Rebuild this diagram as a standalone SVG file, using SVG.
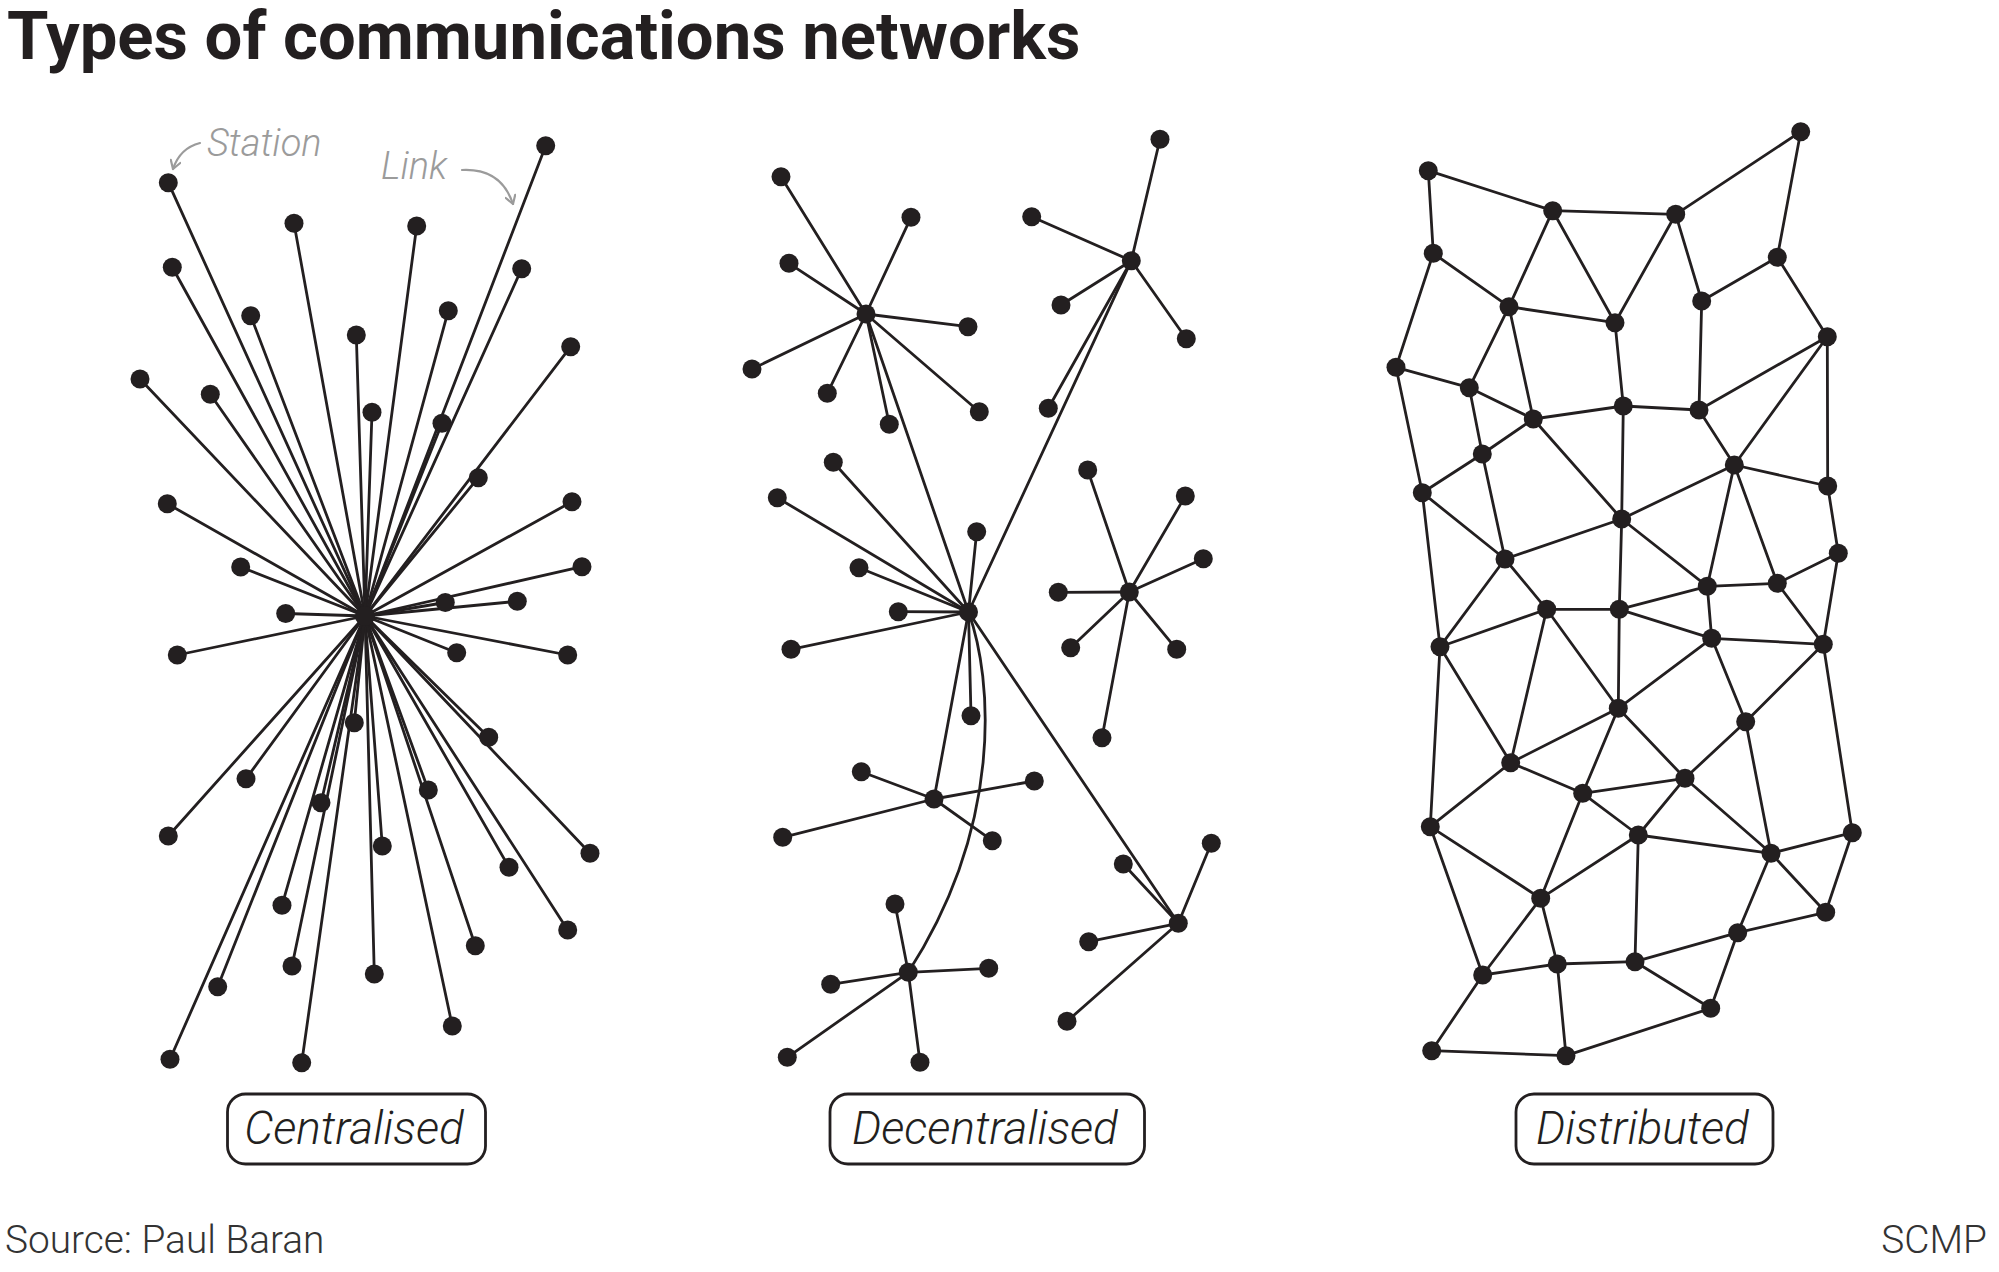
<svg xmlns="http://www.w3.org/2000/svg" width="1999" height="1272" viewBox="0 0 1999 1272">
<style>
.bg{fill:#ffffff}
.dot{fill:#231f20}
.ln{stroke:#231f20;stroke-width:2.8;fill:none;stroke-linecap:round}
.ann{stroke:#9b9b9b;stroke-width:2.2;fill:none;stroke-linecap:round}
.title{font-family:Roboto,"Liberation Sans",sans-serif;font-weight:700;font-size:67px;fill:#231f20}
.note{font-family:Roboto,"Liberation Sans",sans-serif;font-weight:300;font-style:italic;font-size:38px;fill:#9b9b9b}
.lab{font-family:Roboto,"Liberation Sans",sans-serif;font-weight:300;font-style:italic;font-size:46px;fill:#231f20}
.box{fill:#ffffff;stroke:#231f20;stroke-width:2.8}
.foot{font-family:Roboto,"Liberation Sans",sans-serif;font-weight:300;font-size:38.8px;fill:#333333}
</style>
<defs>
<marker id="chev" viewBox="0 0 12 12" refX="10" refY="6" markerWidth="12" markerHeight="12" markerUnits="userSpaceOnUse" orient="auto">
<path d="M2 1 L10 6 L2 11" fill="none" stroke="#9b9b9b" stroke-width="2.2" stroke-linecap="round" stroke-linejoin="round"/>
</marker>
</defs>
<rect class="bg" x="0" y="0" width="1999" height="1272"/>
<text class="title" x="7" y="59">Types of communications networks</text>

<g id="annotations">
<text class="note" x="207" y="156">Station</text>
<path class="ann" d="M200 143 Q180 148 173 169" marker-end="url(#chev)"/>
<text class="note" x="381" y="179">Link</text>
<path class="ann" d="M462 170 Q501 168 513 204" marker-end="url(#chev)"/>
</g>

<g id="connectors">
<g id="cen-links">
<line class="ln" x1="365" y1="616" x2="168.3" y2="182.7"/>
<line class="ln" x1="365" y1="616" x2="294" y2="223.3"/>
<line class="ln" x1="365" y1="616" x2="416.7" y2="226"/>
<line class="ln" x1="365" y1="616" x2="545.7" y2="145.7"/>
<line class="ln" x1="365" y1="616" x2="172.3" y2="267.3"/>
<line class="ln" x1="365" y1="616" x2="521.7" y2="268.7"/>
<line class="ln" x1="365" y1="616" x2="250.7" y2="315.7"/>
<line class="ln" x1="365" y1="616" x2="448.3" y2="310.7"/>
<line class="ln" x1="365" y1="616" x2="356.3" y2="335"/>
<line class="ln" x1="365" y1="616" x2="570.7" y2="346.7"/>
<line class="ln" x1="365" y1="616" x2="140" y2="379"/>
<line class="ln" x1="365" y1="616" x2="210.3" y2="394.3"/>
<line class="ln" x1="365" y1="616" x2="372" y2="412.3"/>
<line class="ln" x1="365" y1="616" x2="442" y2="423.3"/>
<line class="ln" x1="365" y1="616" x2="478.3" y2="477.7"/>
<line class="ln" x1="365" y1="616" x2="167.3" y2="503.7"/>
<line class="ln" x1="365" y1="616" x2="572" y2="501.7"/>
<line class="ln" x1="365" y1="616" x2="240.7" y2="567"/>
<line class="ln" x1="365" y1="616" x2="582" y2="566.7"/>
<line class="ln" x1="365" y1="616" x2="445.3" y2="602.5"/>
<line class="ln" x1="365" y1="616" x2="517.3" y2="601.3"/>
<line class="ln" x1="365" y1="616" x2="285.7" y2="613.5"/>
<line class="ln" x1="365" y1="616" x2="177.3" y2="655"/>
<line class="ln" x1="365" y1="616" x2="456.7" y2="652.7"/>
<line class="ln" x1="365" y1="616" x2="567.7" y2="655"/>
<line class="ln" x1="365" y1="616" x2="354.3" y2="722.7"/>
<line class="ln" x1="365" y1="616" x2="488.7" y2="737.3"/>
<line class="ln" x1="365" y1="616" x2="246" y2="778.7"/>
<line class="ln" x1="365" y1="616" x2="321" y2="802.7"/>
<line class="ln" x1="365" y1="616" x2="428.3" y2="790"/>
<line class="ln" x1="365" y1="616" x2="168.3" y2="836"/>
<line class="ln" x1="365" y1="616" x2="382.3" y2="846"/>
<line class="ln" x1="365" y1="616" x2="590" y2="853.3"/>
<line class="ln" x1="365" y1="616" x2="509" y2="867.3"/>
<line class="ln" x1="365" y1="616" x2="282" y2="905.3"/>
<line class="ln" x1="365" y1="616" x2="567.7" y2="930"/>
<line class="ln" x1="365" y1="616" x2="475.3" y2="945.7"/>
<line class="ln" x1="365" y1="616" x2="292" y2="966"/>
<line class="ln" x1="365" y1="616" x2="374.3" y2="974"/>
<line class="ln" x1="365" y1="616" x2="217.7" y2="986.7"/>
<line class="ln" x1="365" y1="616" x2="452.3" y2="1026"/>
<line class="ln" x1="365" y1="616" x2="170" y2="1059.3"/>
<line class="ln" x1="365" y1="616" x2="301.7" y2="1062.7"/>
</g>
<g id="dec-links">
<line class="ln" x1="866" y1="314" x2="781" y2="176.7"/>
<line class="ln" x1="866" y1="314" x2="911" y2="217.3"/>
<line class="ln" x1="866" y1="314" x2="789" y2="263.3"/>
<line class="ln" x1="866" y1="314" x2="968" y2="326.7"/>
<line class="ln" x1="866" y1="314" x2="752" y2="369"/>
<line class="ln" x1="866" y1="314" x2="827.3" y2="393.3"/>
<line class="ln" x1="866" y1="314" x2="889.3" y2="424.3"/>
<line class="ln" x1="866" y1="314" x2="979.3" y2="411.7"/>
<line class="ln" x1="1131.3" y1="260.7" x2="1160" y2="139.3"/>
<line class="ln" x1="1131.3" y1="260.7" x2="1031.7" y2="216.7"/>
<line class="ln" x1="1131.3" y1="260.7" x2="1061" y2="305"/>
<line class="ln" x1="1131.3" y1="260.7" x2="1186.3" y2="338.7"/>
<line class="ln" x1="1131.3" y1="260.7" x2="1048.3" y2="408.3"/>
<line class="ln" x1="968.5" y1="612" x2="777.3" y2="497.7"/>
<line class="ln" x1="968.5" y1="612" x2="833.3" y2="462.3"/>
<line class="ln" x1="968.5" y1="612" x2="859" y2="567.7"/>
<line class="ln" x1="968.5" y1="612" x2="976.7" y2="531.7"/>
<line class="ln" x1="968.5" y1="612" x2="898.3" y2="611.7"/>
<line class="ln" x1="968.5" y1="612" x2="791" y2="649.3"/>
<line class="ln" x1="968.5" y1="612" x2="971" y2="715.7"/>
<line class="ln" x1="1129.3" y1="592" x2="1087.7" y2="470"/>
<line class="ln" x1="1129.3" y1="592" x2="1185.3" y2="496"/>
<line class="ln" x1="1129.3" y1="592" x2="1203.3" y2="558.7"/>
<line class="ln" x1="1129.3" y1="592" x2="1058.3" y2="592.3"/>
<line class="ln" x1="1129.3" y1="592" x2="1070.7" y2="647.7"/>
<line class="ln" x1="1129.3" y1="592" x2="1176.7" y2="649.3"/>
<line class="ln" x1="1129.3" y1="592" x2="1102" y2="737.7"/>
<line class="ln" x1="934" y1="799" x2="861.3" y2="771.7"/>
<line class="ln" x1="934" y1="799" x2="1034.3" y2="781"/>
<line class="ln" x1="934" y1="799" x2="782.7" y2="837.3"/>
<line class="ln" x1="934" y1="799" x2="992.3" y2="840.7"/>
<line class="ln" x1="908.3" y1="972.3" x2="895" y2="904"/>
<line class="ln" x1="908.3" y1="972.3" x2="988.7" y2="968.3"/>
<line class="ln" x1="908.3" y1="972.3" x2="830.7" y2="984.3"/>
<line class="ln" x1="908.3" y1="972.3" x2="787.3" y2="1057.3"/>
<line class="ln" x1="908.3" y1="972.3" x2="920" y2="1062.3"/>
<line class="ln" x1="1178.3" y1="923.3" x2="1211.3" y2="843.3"/>
<line class="ln" x1="1178.3" y1="923.3" x2="1123.3" y2="864"/>
<line class="ln" x1="1178.3" y1="923.3" x2="1088.7" y2="941.7"/>
<line class="ln" x1="1178.3" y1="923.3" x2="1067" y2="1021.3"/>
<line class="ln" x1="968.5" y1="612" x2="866" y2="314"/>
<line class="ln" x1="968.5" y1="612" x2="1131.3" y2="260.7"/>
<line class="ln" x1="968.5" y1="612" x2="934" y2="799"/>
<line class="ln" x1="968.5" y1="612" x2="1178.3" y2="923.3"/>
<path class="ln" d="M968.5 612 C993 680 1003 825 908.3 972.3"/>
</g>
<g id="dis-links">
<line class="ln" x1="1428.3" y1="170.7" x2="1552.7" y2="210.7"/>
<line class="ln" x1="1428.3" y1="170.7" x2="1433.3" y2="253.3"/>
<line class="ln" x1="1552.7" y1="210.7" x2="1675.7" y2="214.3"/>
<line class="ln" x1="1675.7" y1="214.3" x2="1800.7" y2="131.7"/>
<line class="ln" x1="1800.7" y1="131.7" x2="1777.3" y2="257.3"/>
<line class="ln" x1="1552.7" y1="210.7" x2="1509" y2="306.7"/>
<line class="ln" x1="1552.7" y1="210.7" x2="1615" y2="322.7"/>
<line class="ln" x1="1675.7" y1="214.3" x2="1615" y2="322.7"/>
<line class="ln" x1="1675.7" y1="214.3" x2="1701.7" y2="301"/>
<line class="ln" x1="1777.3" y1="257.3" x2="1701.7" y2="301"/>
<line class="ln" x1="1777.3" y1="257.3" x2="1827.3" y2="336.7"/>
<line class="ln" x1="1433.3" y1="253.3" x2="1509" y2="306.7"/>
<line class="ln" x1="1433.3" y1="253.3" x2="1396" y2="367.3"/>
<line class="ln" x1="1509" y1="306.7" x2="1615" y2="322.7"/>
<line class="ln" x1="1509" y1="306.7" x2="1469.3" y2="387.7"/>
<line class="ln" x1="1509" y1="306.7" x2="1533.3" y2="419"/>
<line class="ln" x1="1615" y1="322.7" x2="1623.3" y2="406"/>
<line class="ln" x1="1701.7" y1="301" x2="1699" y2="410"/>
<line class="ln" x1="1827.3" y1="336.7" x2="1699" y2="410"/>
<line class="ln" x1="1827.3" y1="336.7" x2="1734.3" y2="465"/>
<line class="ln" x1="1827.3" y1="336.7" x2="1827.7" y2="486"/>
<line class="ln" x1="1396" y1="367.3" x2="1469.3" y2="387.7"/>
<line class="ln" x1="1396" y1="367.3" x2="1422.3" y2="492.7"/>
<line class="ln" x1="1469.3" y1="387.7" x2="1533.3" y2="419"/>
<line class="ln" x1="1469.3" y1="387.7" x2="1482.3" y2="454"/>
<line class="ln" x1="1533.3" y1="419" x2="1623.3" y2="406"/>
<line class="ln" x1="1623.3" y1="406" x2="1699" y2="410"/>
<line class="ln" x1="1533.3" y1="419" x2="1482.3" y2="454"/>
<line class="ln" x1="1533.3" y1="419" x2="1621.7" y2="519"/>
<line class="ln" x1="1623.3" y1="406" x2="1621.7" y2="519"/>
<line class="ln" x1="1699" y1="410" x2="1734.3" y2="465"/>
<line class="ln" x1="1482.3" y1="454" x2="1422.3" y2="492.7"/>
<line class="ln" x1="1482.3" y1="454" x2="1505" y2="559"/>
<line class="ln" x1="1734.3" y1="465" x2="1621.7" y2="519"/>
<line class="ln" x1="1734.3" y1="465" x2="1827.7" y2="486"/>
<line class="ln" x1="1734.3" y1="465" x2="1707.3" y2="586.3"/>
<line class="ln" x1="1734.3" y1="465" x2="1777.3" y2="583.3"/>
<line class="ln" x1="1827.7" y1="486" x2="1838.3" y2="553.3"/>
<line class="ln" x1="1422.3" y1="492.7" x2="1505" y2="559"/>
<line class="ln" x1="1422.3" y1="492.7" x2="1440" y2="646.7"/>
<line class="ln" x1="1621.7" y1="519" x2="1505" y2="559"/>
<line class="ln" x1="1621.7" y1="519" x2="1707.3" y2="586.3"/>
<line class="ln" x1="1621.7" y1="519" x2="1619.3" y2="609.3"/>
<line class="ln" x1="1505" y1="559" x2="1546.7" y2="609.3"/>
<line class="ln" x1="1505" y1="559" x2="1440" y2="646.7"/>
<line class="ln" x1="1838.3" y1="553.3" x2="1777.3" y2="583.3"/>
<line class="ln" x1="1838.3" y1="553.3" x2="1823.3" y2="644.3"/>
<line class="ln" x1="1707.3" y1="586.3" x2="1777.3" y2="583.3"/>
<line class="ln" x1="1707.3" y1="586.3" x2="1619.3" y2="609.3"/>
<line class="ln" x1="1777.3" y1="583.3" x2="1823.3" y2="644.3"/>
<line class="ln" x1="1707.3" y1="586.3" x2="1711.7" y2="638.3"/>
<line class="ln" x1="1546.7" y1="609.3" x2="1619.3" y2="609.3"/>
<line class="ln" x1="1546.7" y1="609.3" x2="1440" y2="646.7"/>
<line class="ln" x1="1546.7" y1="609.3" x2="1618.3" y2="708.3"/>
<line class="ln" x1="1546.7" y1="609.3" x2="1510.7" y2="762.7"/>
<line class="ln" x1="1619.3" y1="609.3" x2="1618.3" y2="708.3"/>
<line class="ln" x1="1619.3" y1="609.3" x2="1711.7" y2="638.3"/>
<line class="ln" x1="1711.7" y1="638.3" x2="1823.3" y2="644.3"/>
<line class="ln" x1="1711.7" y1="638.3" x2="1618.3" y2="708.3"/>
<line class="ln" x1="1711.7" y1="638.3" x2="1745.7" y2="721.7"/>
<line class="ln" x1="1823.3" y1="644.3" x2="1745.7" y2="721.7"/>
<line class="ln" x1="1823.3" y1="644.3" x2="1852.3" y2="832.7"/>
<line class="ln" x1="1440" y1="646.7" x2="1510.7" y2="762.7"/>
<line class="ln" x1="1440" y1="646.7" x2="1430.3" y2="826.7"/>
<line class="ln" x1="1618.3" y1="708.3" x2="1510.7" y2="762.7"/>
<line class="ln" x1="1618.3" y1="708.3" x2="1685" y2="778.3"/>
<line class="ln" x1="1618.3" y1="708.3" x2="1582.7" y2="793.3"/>
<line class="ln" x1="1745.7" y1="721.7" x2="1685" y2="778.3"/>
<line class="ln" x1="1745.7" y1="721.7" x2="1771" y2="853.3"/>
<line class="ln" x1="1510.7" y1="762.7" x2="1582.7" y2="793.3"/>
<line class="ln" x1="1510.7" y1="762.7" x2="1430.3" y2="826.7"/>
<line class="ln" x1="1685" y1="778.3" x2="1582.7" y2="793.3"/>
<line class="ln" x1="1685" y1="778.3" x2="1638.3" y2="835"/>
<line class="ln" x1="1685" y1="778.3" x2="1771" y2="853.3"/>
<line class="ln" x1="1582.7" y1="793.3" x2="1638.3" y2="835"/>
<line class="ln" x1="1582.7" y1="793.3" x2="1540.7" y2="898.3"/>
<line class="ln" x1="1430.3" y1="826.7" x2="1540.7" y2="898.3"/>
<line class="ln" x1="1430.3" y1="826.7" x2="1482.7" y2="975"/>
<line class="ln" x1="1638.3" y1="835" x2="1771" y2="853.3"/>
<line class="ln" x1="1638.3" y1="835" x2="1540.7" y2="898.3"/>
<line class="ln" x1="1638.3" y1="835" x2="1635" y2="961.7"/>
<line class="ln" x1="1852.3" y1="832.7" x2="1771" y2="853.3"/>
<line class="ln" x1="1852.3" y1="832.7" x2="1825.7" y2="912.3"/>
<line class="ln" x1="1771" y1="853.3" x2="1825.7" y2="912.3"/>
<line class="ln" x1="1771" y1="853.3" x2="1737.7" y2="932.7"/>
<line class="ln" x1="1540.7" y1="898.3" x2="1482.7" y2="975"/>
<line class="ln" x1="1540.7" y1="898.3" x2="1557.3" y2="964"/>
<line class="ln" x1="1825.7" y1="912.3" x2="1737.7" y2="932.7"/>
<line class="ln" x1="1737.7" y1="932.7" x2="1635" y2="961.7"/>
<line class="ln" x1="1737.7" y1="932.7" x2="1710.7" y2="1008.3"/>
<line class="ln" x1="1482.7" y1="975" x2="1557.3" y2="964"/>
<line class="ln" x1="1482.7" y1="975" x2="1431.7" y2="1050.7"/>
<line class="ln" x1="1557.3" y1="964" x2="1635" y2="961.7"/>
<line class="ln" x1="1557.3" y1="964" x2="1566" y2="1055.7"/>
<line class="ln" x1="1635" y1="961.7" x2="1710.7" y2="1008.3"/>
<line class="ln" x1="1710.7" y1="1008.3" x2="1566" y2="1055.7"/>
<line class="ln" x1="1431.7" y1="1050.7" x2="1566" y2="1055.7"/>
</g>
</g>

<g id="centralised-nodes">
<g id="cen-hub"><circle class="dot" cx="365" cy="616" r="10"/></g>
<g id="cen-1"><circle class="dot" cx="168.3" cy="182.7" r="9.5"/></g>
<g id="cen-2"><circle class="dot" cx="294" cy="223.3" r="9.5"/></g>
<g id="cen-3"><circle class="dot" cx="416.7" cy="226" r="9.5"/></g>
<g id="cen-4"><circle class="dot" cx="545.7" cy="145.7" r="9.5"/></g>
<g id="cen-5"><circle class="dot" cx="172.3" cy="267.3" r="9.5"/></g>
<g id="cen-6"><circle class="dot" cx="521.7" cy="268.7" r="9.5"/></g>
<g id="cen-7"><circle class="dot" cx="250.7" cy="315.7" r="9.5"/></g>
<g id="cen-8"><circle class="dot" cx="448.3" cy="310.7" r="9.5"/></g>
<g id="cen-9"><circle class="dot" cx="356.3" cy="335" r="9.5"/></g>
<g id="cen-10"><circle class="dot" cx="570.7" cy="346.7" r="9.5"/></g>
<g id="cen-11"><circle class="dot" cx="140" cy="379" r="9.5"/></g>
<g id="cen-12"><circle class="dot" cx="210.3" cy="394.3" r="9.5"/></g>
<g id="cen-13"><circle class="dot" cx="372" cy="412.3" r="9.5"/></g>
<g id="cen-14"><circle class="dot" cx="442" cy="423.3" r="9.5"/></g>
<g id="cen-15"><circle class="dot" cx="478.3" cy="477.7" r="9.5"/></g>
<g id="cen-16"><circle class="dot" cx="167.3" cy="503.7" r="9.5"/></g>
<g id="cen-17"><circle class="dot" cx="572" cy="501.7" r="9.5"/></g>
<g id="cen-18"><circle class="dot" cx="240.7" cy="567" r="9.5"/></g>
<g id="cen-19"><circle class="dot" cx="582" cy="566.7" r="9.5"/></g>
<g id="cen-20"><circle class="dot" cx="445.3" cy="602.5" r="9.5"/></g>
<g id="cen-21"><circle class="dot" cx="517.3" cy="601.3" r="9.5"/></g>
<g id="cen-22"><circle class="dot" cx="285.7" cy="613.5" r="9.5"/></g>
<g id="cen-23"><circle class="dot" cx="177.3" cy="655" r="9.5"/></g>
<g id="cen-24"><circle class="dot" cx="456.7" cy="652.7" r="9.5"/></g>
<g id="cen-25"><circle class="dot" cx="567.7" cy="655" r="9.5"/></g>
<g id="cen-26"><circle class="dot" cx="354.3" cy="722.7" r="9.5"/></g>
<g id="cen-27"><circle class="dot" cx="488.7" cy="737.3" r="9.5"/></g>
<g id="cen-28"><circle class="dot" cx="246" cy="778.7" r="9.5"/></g>
<g id="cen-29"><circle class="dot" cx="321" cy="802.7" r="9.5"/></g>
<g id="cen-30"><circle class="dot" cx="428.3" cy="790" r="9.5"/></g>
<g id="cen-31"><circle class="dot" cx="168.3" cy="836" r="9.5"/></g>
<g id="cen-32"><circle class="dot" cx="382.3" cy="846" r="9.5"/></g>
<g id="cen-33"><circle class="dot" cx="590" cy="853.3" r="9.5"/></g>
<g id="cen-34"><circle class="dot" cx="509" cy="867.3" r="9.5"/></g>
<g id="cen-35"><circle class="dot" cx="282" cy="905.3" r="9.5"/></g>
<g id="cen-36"><circle class="dot" cx="567.7" cy="930" r="9.5"/></g>
<g id="cen-37"><circle class="dot" cx="475.3" cy="945.7" r="9.5"/></g>
<g id="cen-38"><circle class="dot" cx="292" cy="966" r="9.5"/></g>
<g id="cen-39"><circle class="dot" cx="374.3" cy="974" r="9.5"/></g>
<g id="cen-40"><circle class="dot" cx="217.7" cy="986.7" r="9.5"/></g>
<g id="cen-41"><circle class="dot" cx="452.3" cy="1026" r="9.5"/></g>
<g id="cen-42"><circle class="dot" cx="170" cy="1059.3" r="9.5"/></g>
<g id="cen-43"><circle class="dot" cx="301.7" cy="1062.7" r="9.5"/></g>
</g>

<g id="decentralised-nodes">
<g id="dec-hubA"><circle class="dot" cx="866" cy="314" r="9.5"/></g>
<g id="dec-a1"><circle class="dot" cx="781" cy="176.7" r="9.5"/></g>
<g id="dec-a2"><circle class="dot" cx="911" cy="217.3" r="9.5"/></g>
<g id="dec-a3"><circle class="dot" cx="789" cy="263.3" r="9.5"/></g>
<g id="dec-a4"><circle class="dot" cx="968" cy="326.7" r="9.5"/></g>
<g id="dec-a5"><circle class="dot" cx="752" cy="369" r="9.5"/></g>
<g id="dec-a6"><circle class="dot" cx="827.3" cy="393.3" r="9.5"/></g>
<g id="dec-a7"><circle class="dot" cx="889.3" cy="424.3" r="9.5"/></g>
<g id="dec-a8"><circle class="dot" cx="979.3" cy="411.7" r="9.5"/></g>
<g id="dec-hubB"><circle class="dot" cx="1131.3" cy="260.7" r="9.5"/></g>
<g id="dec-b1"><circle class="dot" cx="1160" cy="139.3" r="9.5"/></g>
<g id="dec-b2"><circle class="dot" cx="1031.7" cy="216.7" r="9.5"/></g>
<g id="dec-b3"><circle class="dot" cx="1061" cy="305" r="9.5"/></g>
<g id="dec-b4"><circle class="dot" cx="1186.3" cy="338.7" r="9.5"/></g>
<g id="dec-b5"><circle class="dot" cx="1048.3" cy="408.3" r="9.5"/></g>
<g id="dec-hubC"><circle class="dot" cx="968.5" cy="612" r="9.5"/></g>
<g id="dec-c1"><circle class="dot" cx="777.3" cy="497.7" r="9.5"/></g>
<g id="dec-c2"><circle class="dot" cx="833.3" cy="462.3" r="9.5"/></g>
<g id="dec-c3"><circle class="dot" cx="859" cy="567.7" r="9.5"/></g>
<g id="dec-c4"><circle class="dot" cx="976.7" cy="531.7" r="9.5"/></g>
<g id="dec-c5"><circle class="dot" cx="898.3" cy="611.7" r="9.5"/></g>
<g id="dec-c6"><circle class="dot" cx="791" cy="649.3" r="9.5"/></g>
<g id="dec-c7"><circle class="dot" cx="971" cy="715.7" r="9.5"/></g>
<g id="dec-hubD"><circle class="dot" cx="1129.3" cy="592" r="9.5"/></g>
<g id="dec-d1"><circle class="dot" cx="1087.7" cy="470" r="9.5"/></g>
<g id="dec-d2"><circle class="dot" cx="1185.3" cy="496" r="9.5"/></g>
<g id="dec-d3"><circle class="dot" cx="1203.3" cy="558.7" r="9.5"/></g>
<g id="dec-d4"><circle class="dot" cx="1058.3" cy="592.3" r="9.5"/></g>
<g id="dec-d5"><circle class="dot" cx="1070.7" cy="647.7" r="9.5"/></g>
<g id="dec-d6"><circle class="dot" cx="1176.7" cy="649.3" r="9.5"/></g>
<g id="dec-d7"><circle class="dot" cx="1102" cy="737.7" r="9.5"/></g>
<g id="dec-hubF"><circle class="dot" cx="934" cy="799" r="9.5"/></g>
<g id="dec-f1"><circle class="dot" cx="861.3" cy="771.7" r="9.5"/></g>
<g id="dec-f2"><circle class="dot" cx="1034.3" cy="781" r="9.5"/></g>
<g id="dec-f3"><circle class="dot" cx="782.7" cy="837.3" r="9.5"/></g>
<g id="dec-f4"><circle class="dot" cx="992.3" cy="840.7" r="9.5"/></g>
<g id="dec-hubG"><circle class="dot" cx="908.3" cy="972.3" r="9.5"/></g>
<g id="dec-g1"><circle class="dot" cx="895" cy="904" r="9.5"/></g>
<g id="dec-g2"><circle class="dot" cx="988.7" cy="968.3" r="9.5"/></g>
<g id="dec-g3"><circle class="dot" cx="830.7" cy="984.3" r="9.5"/></g>
<g id="dec-g4"><circle class="dot" cx="787.3" cy="1057.3" r="9.5"/></g>
<g id="dec-g5"><circle class="dot" cx="920" cy="1062.3" r="9.5"/></g>
<g id="dec-hubE"><circle class="dot" cx="1178.3" cy="923.3" r="9.5"/></g>
<g id="dec-e1"><circle class="dot" cx="1211.3" cy="843.3" r="9.5"/></g>
<g id="dec-e2"><circle class="dot" cx="1123.3" cy="864" r="9.5"/></g>
<g id="dec-e3"><circle class="dot" cx="1088.7" cy="941.7" r="9.5"/></g>
<g id="dec-e4"><circle class="dot" cx="1067" cy="1021.3" r="9.5"/></g>
</g>

<g id="distributed-nodes">
<g id="dis-1"><circle class="dot" cx="1800.7" cy="131.7" r="9.5"/></g>
<g id="dis-2"><circle class="dot" cx="1428.3" cy="170.7" r="9.5"/></g>
<g id="dis-3"><circle class="dot" cx="1552.7" cy="210.7" r="9.5"/></g>
<g id="dis-4"><circle class="dot" cx="1675.7" cy="214.3" r="9.5"/></g>
<g id="dis-5"><circle class="dot" cx="1433.3" cy="253.3" r="9.5"/></g>
<g id="dis-6"><circle class="dot" cx="1777.3" cy="257.3" r="9.5"/></g>
<g id="dis-7"><circle class="dot" cx="1509" cy="306.7" r="9.5"/></g>
<g id="dis-8"><circle class="dot" cx="1701.7" cy="301" r="9.5"/></g>
<g id="dis-9"><circle class="dot" cx="1615" cy="322.7" r="9.5"/></g>
<g id="dis-10"><circle class="dot" cx="1827.3" cy="336.7" r="9.5"/></g>
<g id="dis-11"><circle class="dot" cx="1396" cy="367.3" r="9.5"/></g>
<g id="dis-12"><circle class="dot" cx="1469.3" cy="387.7" r="9.5"/></g>
<g id="dis-13"><circle class="dot" cx="1533.3" cy="419" r="9.5"/></g>
<g id="dis-14"><circle class="dot" cx="1623.3" cy="406" r="9.5"/></g>
<g id="dis-15"><circle class="dot" cx="1699" cy="410" r="9.5"/></g>
<g id="dis-16"><circle class="dot" cx="1482.3" cy="454" r="9.5"/></g>
<g id="dis-17"><circle class="dot" cx="1734.3" cy="465" r="9.5"/></g>
<g id="dis-18"><circle class="dot" cx="1422.3" cy="492.7" r="9.5"/></g>
<g id="dis-19"><circle class="dot" cx="1827.7" cy="486" r="9.5"/></g>
<g id="dis-20"><circle class="dot" cx="1621.7" cy="519" r="9.5"/></g>
<g id="dis-21"><circle class="dot" cx="1505" cy="559" r="9.5"/></g>
<g id="dis-22"><circle class="dot" cx="1838.3" cy="553.3" r="9.5"/></g>
<g id="dis-23"><circle class="dot" cx="1707.3" cy="586.3" r="9.5"/></g>
<g id="dis-24"><circle class="dot" cx="1777.3" cy="583.3" r="9.5"/></g>
<g id="dis-25"><circle class="dot" cx="1546.7" cy="609.3" r="9.5"/></g>
<g id="dis-26"><circle class="dot" cx="1619.3" cy="609.3" r="9.5"/></g>
<g id="dis-27"><circle class="dot" cx="1440" cy="646.7" r="9.5"/></g>
<g id="dis-28"><circle class="dot" cx="1711.7" cy="638.3" r="9.5"/></g>
<g id="dis-29"><circle class="dot" cx="1823.3" cy="644.3" r="9.5"/></g>
<g id="dis-30"><circle class="dot" cx="1618.3" cy="708.3" r="9.5"/></g>
<g id="dis-31"><circle class="dot" cx="1745.7" cy="721.7" r="9.5"/></g>
<g id="dis-32"><circle class="dot" cx="1510.7" cy="762.7" r="9.5"/></g>
<g id="dis-33"><circle class="dot" cx="1685" cy="778.3" r="9.5"/></g>
<g id="dis-34"><circle class="dot" cx="1582.7" cy="793.3" r="9.5"/></g>
<g id="dis-35"><circle class="dot" cx="1430.3" cy="826.7" r="9.5"/></g>
<g id="dis-36"><circle class="dot" cx="1638.3" cy="835" r="9.5"/></g>
<g id="dis-37"><circle class="dot" cx="1852.3" cy="832.7" r="9.5"/></g>
<g id="dis-38"><circle class="dot" cx="1771" cy="853.3" r="9.5"/></g>
<g id="dis-39"><circle class="dot" cx="1540.7" cy="898.3" r="9.5"/></g>
<g id="dis-40"><circle class="dot" cx="1825.7" cy="912.3" r="9.5"/></g>
<g id="dis-41"><circle class="dot" cx="1737.7" cy="932.7" r="9.5"/></g>
<g id="dis-42"><circle class="dot" cx="1482.7" cy="975" r="9.5"/></g>
<g id="dis-43"><circle class="dot" cx="1557.3" cy="964" r="9.5"/></g>
<g id="dis-44"><circle class="dot" cx="1635" cy="961.7" r="9.5"/></g>
<g id="dis-45"><circle class="dot" cx="1710.7" cy="1008.3" r="9.5"/></g>
<g id="dis-46"><circle class="dot" cx="1431.7" cy="1050.7" r="9.5"/></g>
<g id="dis-47"><circle class="dot" cx="1566" cy="1055.7" r="9.5"/></g>
</g>

<g id="label-centralised">
<rect class="box" x="227.5" y="1094" width="258" height="70" rx="18"/>
<text class="lab" x="354" y="1143.5" text-anchor="middle">Centralised</text>
</g>
<g id="label-decentralised">
<rect class="box" x="830" y="1094" width="314.5" height="70" rx="18"/>
<text class="lab" x="985" y="1143.5" text-anchor="middle">Decentralised</text>
</g>
<g id="label-distributed">
<rect class="box" x="1516" y="1094" width="257" height="70" rx="18"/>
<text class="lab" x="1642.5" y="1143.5" text-anchor="middle">Distributed</text>
</g>

<text class="foot" x="5" y="1252.5">Source: Paul Baran</text>
<text class="foot" x="1987" y="1252.5" text-anchor="end">SCMP</text>
</svg>
